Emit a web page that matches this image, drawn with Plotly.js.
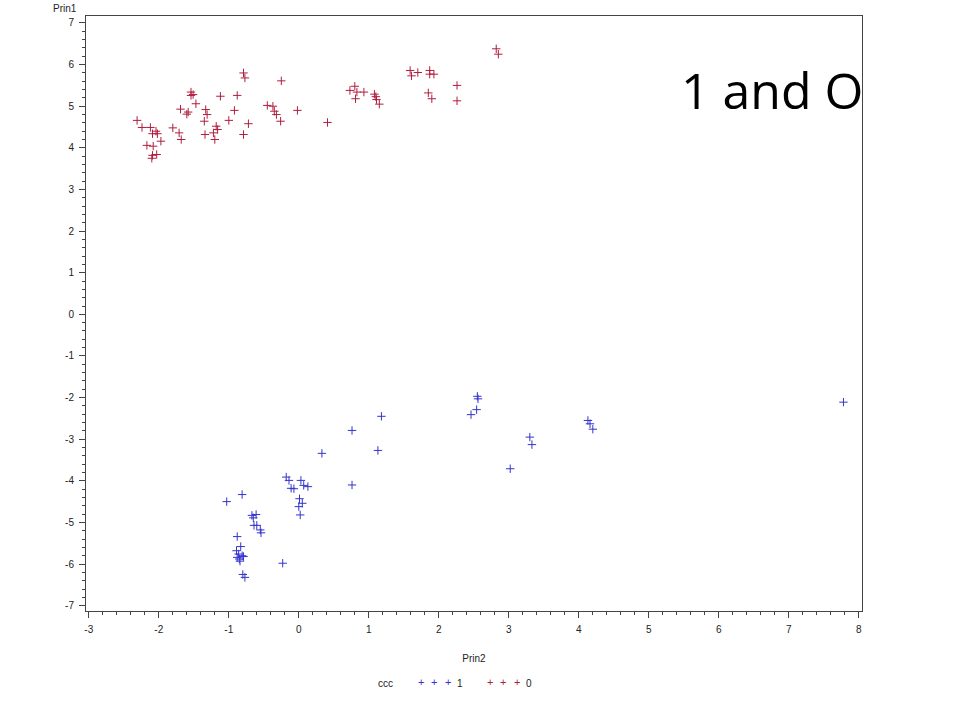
<!DOCTYPE html>
<html>
<head>
<meta charset="utf-8">
<script src="https://cdn.plot.ly/plotly-3.0.1.min.js"></script>
<style>html,body{margin:0;padding:0;background:#fff;}#chart{width:960px;height:720px;}</style>
</head>
<body>
<div id="chart"></div>
<script>
// ccc = 0 (red)
const x0 = [-2.31,-2.24,-2.12,-2.09,-2.04,-2.02,-1.97,-2.17,-2.08,-2.03,-2.09,-2.10,
  -1.80,-1.71,-1.68,-1.69,-1.60,-1.58,-1.54,-1.51,-1.54,-1.47,-1.33,-1.31,-1.35,-1.34,
  -1.22,-1.20,-1.18,-1.16,-1.12,-1.00,-0.92,-0.88,-0.79,-0.77,-0.72,-0.79,-0.45,-0.37,
  -0.35,-0.32,-0.26,-0.25,-0.02,0.41,0.73,0.80,0.83,0.93,0.81,1.08,1.11,1.15,1.10,
  1.59,1.61,1.70,1.87,1.87,1.93,1.85,1.90,2.26,2.26,2.82,2.85];
const y0 = [4.66,4.49,4.49,4.34,4.40,4.34,4.16,4.06,4.04,3.84,3.82,3.75,
  4.48,4.36,4.20,4.93,4.81,4.86,5.34,5.28,5.26,5.06,4.92,4.80,4.64,4.32,
  4.36,4.20,4.52,4.44,5.24,4.66,4.90,5.26,5.80,5.68,4.58,4.32,5.02,5.00,
  4.88,4.80,4.64,5.61,4.90,4.61,5.38,5.48,5.34,5.34,5.18,5.29,5.16,5.05,5.23,
  5.86,5.73,5.81,5.86,5.77,5.77,5.32,5.18,5.50,5.13,6.38,6.25];
// ccc = 1 (blue)
const x1 = [1.18,0.76,1.13,0.33,0.76,-0.18,-0.14,-0.11,-0.07,0.03,0.07,0.13,0.01,0.05,0.00,0.02,
  -1.03,-0.81,-0.67,-0.61,-0.65,-0.64,-0.60,-0.55,-0.54,-0.88,-0.83,-0.89,-0.86,-0.81,-0.88,
  -0.85,-0.84,-0.79,-0.23,-0.80,-0.77,2.55,2.56,2.54,2.46,3.30,3.33,3.02,4.13,4.16,4.20,7.78];
const y1 = [-2.45,-2.79,-3.27,-3.34,-4.10,-3.91,-3.99,-4.18,-4.19,-3.99,-4.11,-4.14,-4.43,-4.54,-4.62,-4.82,
  -4.50,-4.33,-4.83,-4.81,-4.89,-5.07,-5.07,-5.18,-5.25,-5.34,-5.58,-5.68,-5.76,-5.80,-5.84,
  -5.88,-5.93,-5.82,-5.98,-6.25,-6.32,-1.97,-2.03,-2.29,-2.41,-2.95,-3.13,-3.71,-2.55,-2.63,-2.76,-2.11];

const xTickVals = [-3,-2,-1,0,1,2,3,4,5,6,7,8];
const xTickText = ['-3','-2','-1','0','1','2','3','4','5','6','7','8'];
const yTickVals = [-7,-6,-5,-4,-3,-2,-1,0,1,2,3,4,5,6,7];
const yTickText = ['-7','-6','-5','-4','-3','-2','-1','0','1','2','3','4','5','6','7'];

const legendLabels = ['1', '0'];
const colors = ['#3434cc', '#b01e3e'];

const FONT = 'Liberation Sans, Arial, sans-serif';
const mk = (c) => ({symbol: 'cross-thin-open', size: 6, line: {color: c, width: 1}, color: c});

const traces = [
  {x: x1, y: y1, type: 'scatter', mode: 'markers', name: legendLabels[0], marker: mk(colors[0]), showlegend: false},
  {x: x0, y: y0, type: 'scatter', mode: 'markers', name: legendLabels[1], marker: mk(colors[1]), showlegend: false}
];

// plot-area pixel geometry for annotation placement
const L = 86, R = 862, T = 15.7, B = 610.7;
const px = (p) => (p - L) / (R - L);
const py = (p) => (B - p) / (B - T);
const A = (x, y, text, font) => ({xref: 'paper', yref: 'paper', x: px(x), y: py(y), xanchor: 'center', yanchor: 'middle',
  text: text, showarrow: false, font: font});
const small = {family: FONT, size: 10, color: '#222'};

const ann = [];
ann.push(A(65, 8, 'Prin1', small));
ann.push(A(385, 683, 'ccc', small));
const legStart = [421, 490];
legendLabels.forEach((lab, i) => {
  for (let k = 0; k < 3; k++) {
    ann.push(A(legStart[i] + k * 13.3, 681.5, '+', {family: FONT, size: 11, color: colors[i]}));
  }
  ann.push(A(legStart[i] + 38.5, 683, lab, small));
});
ann.push(A(772, 90, '1 and O', {family: 'Open Sans, sans-serif', size: 50, color: '#000'}));

const axisCommon = {
  showgrid: false, zeroline: false, showline: true, mirror: true, linecolor: '#444', linewidth: 1,
  ticks: 'outside', ticklen: 6, tickcolor: '#444', tickwidth: 1, tickmode: 'array',
  ticklabelstandoff: 3,
  tickfont: {family: FONT, size: 10, color: '#222'},
  minor: {dtick: 0.2, ticks: 'outside', ticklen: 3, tickcolor: '#444', tickwidth: 1, showgrid: false}
};

const layout = {
  width: 960, height: 720,
  margin: {l: L, r: 960 - R, t: T, b: 720 - B},
  paper_bgcolor: '#fff', plot_bgcolor: '#fff',
  showlegend: false,
  xaxis: Object.assign({}, axisCommon, {range: [-3.04, 8.045], tickvals: xTickVals, ticktext: xTickText,
    title: {text: 'Prin2', standoff: 20, font: small}}),
  yaxis: Object.assign({}, axisCommon, {range: [-7.128, 7.168], tickvals: yTickVals, ticktext: yTickText}),
  annotations: ann
};

Plotly.newPlot('chart', traces, layout, {displayModeBar: false, staticPlot: true});
</script>
</body>
</html>
